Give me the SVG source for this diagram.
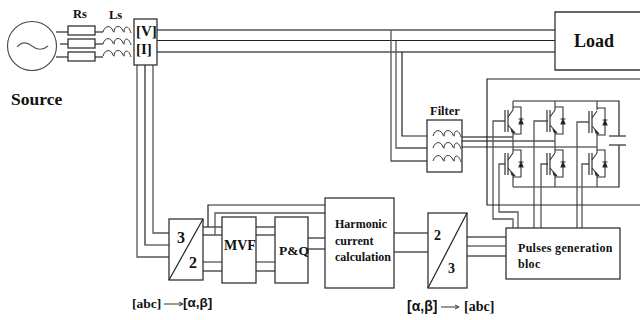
<svg xmlns="http://www.w3.org/2000/svg" width="640" height="320" viewBox="0 0 640 320">
<style>
text{font-family:"Liberation Serif","Times New Roman",serif;font-weight:bold;fill:#111}
.g{fill:none;stroke:#555;stroke-width:1.3}
.k{fill:none;stroke:#222;stroke-width:1.2}
.b{fill:#fff;stroke:#333;stroke-width:1.3}
.ab{font-family:"Liberation Sans",Arial,sans-serif}
</style>
<defs>
<path id="coil" d="M0 4C2 -3 8 -3 10 3C11 5 12 4 11 3C12 -3 18 -3 20 3C21 5 22 4 21 3C22 -3 26 -2 28 5" fill="none" stroke="#333" stroke-width="1"/>
<g id="igbt" fill="none" stroke="#333" stroke-width="1.1">
<path d="M-8 -11V11M-5 -11V11" stroke-width="1.2"/>
<path d="M-5 -4L0 -11M-5 4L1 11M0 -14H8V13H0"/>
<path d="M-2 8L2 12L-1 11Z" fill="#222"/>
<path d="M6 3H10L8 -2ZM5.500 -2H10.500" fill="#111"/>
</g>
</defs>
<rect width="640" height="320" fill="#fff"/>
<g id="connectors">
<path class="g" d="M56 32H68M60 44H68M56 57H68M95 32H103M95 44H103M95 57H103"/>
<path class="g" d="M157 30H555M157 52H555"/><path class="k" d="M157 40.5H555"/>
<path class="g" d="M137 65V257H169M153 65V233H169"/><path class="k" d="M145 65V245H169"/>
<path class="g" d="M391 30V161H427M396 41V148H427"/><path class="k" d="M402 52V136H427"/>
<path class="g" d="M462 137H513M462 141H555"/><path class="k" d="M462 147H597"/>
<path class="g" d="M203 227H222M203 235H222M203 271H222M256 227H275M256 235H275M256 271H275M308 238H325M308 249H325M394 233H428M394 252H428M467 237H506M467 256H506M215 235V213H325"/>
<path class="k" d="M203 262H222M256 262H275M208 227V205H325M467 246H506"/>
<path class="k" d="M513 101H619V136M619 145V187H513"/>
<path class="g" d="M513 101V110M555 101V110M597 101V110M513 132V153M555 132V153M597 132V153M513 175V187M555 175V187M597 175V187"/>
<path class="g" d="M505 121H493V219H513V228M505 164H499V212H518V228M548 121H534V228M548 164H541V228M589 122H577V228M589 164H582V228"/>
<path class="g" d="M609 136H626M609 145H626" stroke-width="1.500"/>
</g>
<g id="source"><circle cx="32" cy="46" r="24.500" fill="#fff" stroke="#444" stroke-width="1.100"/><path d="M17 47C22 41 27 42 32 46C37 50 42 51 48 46" fill="none" stroke="#555" stroke-width="1.100"/><text x="11" y="105" font-size="17.500">Source</text></g>
<g id="rs"><rect class="b" x="68" y="26" width="27" height="9"/><rect class="b" x="68" y="39" width="27" height="9"/><rect class="b" x="68" y="52" width="27" height="9"/><text x="73" y="18" font-size="12.500">Rs</text></g>
<g id="ls"><use href="#coil" x="103" y="28"/><use href="#coil" x="103" y="40"/><use href="#coil" x="103" y="52"/><text x="109" y="19" font-size="12.500">Ls</text></g>
<g id="sensor"><rect class="b" x="134" y="19" width="23" height="46"/><text x="136" y="36" font-size="15">[V]</text><text x="136" y="54" font-size="15">[I]</text></g>
<g id="load"><path class="b" d="M641 12H555V70H641"/><text x="574" y="47" font-size="18">Load</text></g>
<g id="filter"><rect class="b" x="427" y="120" width="35" height="52"/><use href="#coil" x="433" y="132"/><use href="#coil" x="433" y="144"/><use href="#coil" x="433" y="157"/><text x="430" y="115" font-size="12.500">Filter</text></g>
<g id="inverter"><path class="k" d="M641 79H487V205H641" stroke-width="1.300"/><use href="#igbt" x="513" y="121"/><use href="#igbt" x="555" y="121"/><use href="#igbt" x="597" y="122"/><use href="#igbt" x="513" y="164"/><use href="#igbt" x="555" y="164"/><use href="#igbt" x="597" y="164"/></g>
<g id="abc-ab"><rect class="b" x="169" y="219" width="34" height="61"/><path class="k" d="M203 219L169 280"/><text x="177" y="243" font-size="16">3</text><text x="189" y="268" font-size="16">2</text></g>
<g id="mvf"><rect class="b" x="222" y="217" width="34" height="66"/><text x="224" y="250" font-size="14">MVF</text></g>
<g id="pq"><rect class="b" x="275" y="217" width="33" height="66"/><text x="279" y="255" font-size="13.500">P&amp;Q</text></g>
<g id="harmonic"><rect class="b" x="325" y="198" width="69" height="90"/><text x="335" y="228" font-size="12">Harmonic</text><text x="335" y="245" font-size="12">current</text><text x="335" y="261" font-size="12">calculation</text></g>
<g id="ab-abc"><rect class="b" x="428" y="213" width="39" height="75"/><path class="k" d="M467 213L428 288"/><text x="434" y="240" font-size="14">2</text><text x="448" y="273" font-size="14">3</text></g>
<g id="pulses"><rect class="b" x="506" y="228" width="114" height="51"/><text x="518" y="252" font-size="12" letter-spacing=".300">Pulses generation</text><text x="518" y="268" font-size="12" letter-spacing=".300">bloc</text></g>
<g id="label-abc-ab"><text x="132" y="308" font-size="13.500">[abc]</text><path d="M164 304H182M179 302L183 304L179 306" fill="none" stroke="#333"/><text x="183" y="307" font-size="13.500" class="ab">[α,β]</text></g>
<g id="label-ab-abc"><text x="407" y="311" font-size="14" class="ab">[α,β]</text><path d="M441 307H458M455 305L459 307L455 309" fill="none" stroke="#333"/><text x="464" y="311" font-size="14">[abc]</text></g>
</svg>
